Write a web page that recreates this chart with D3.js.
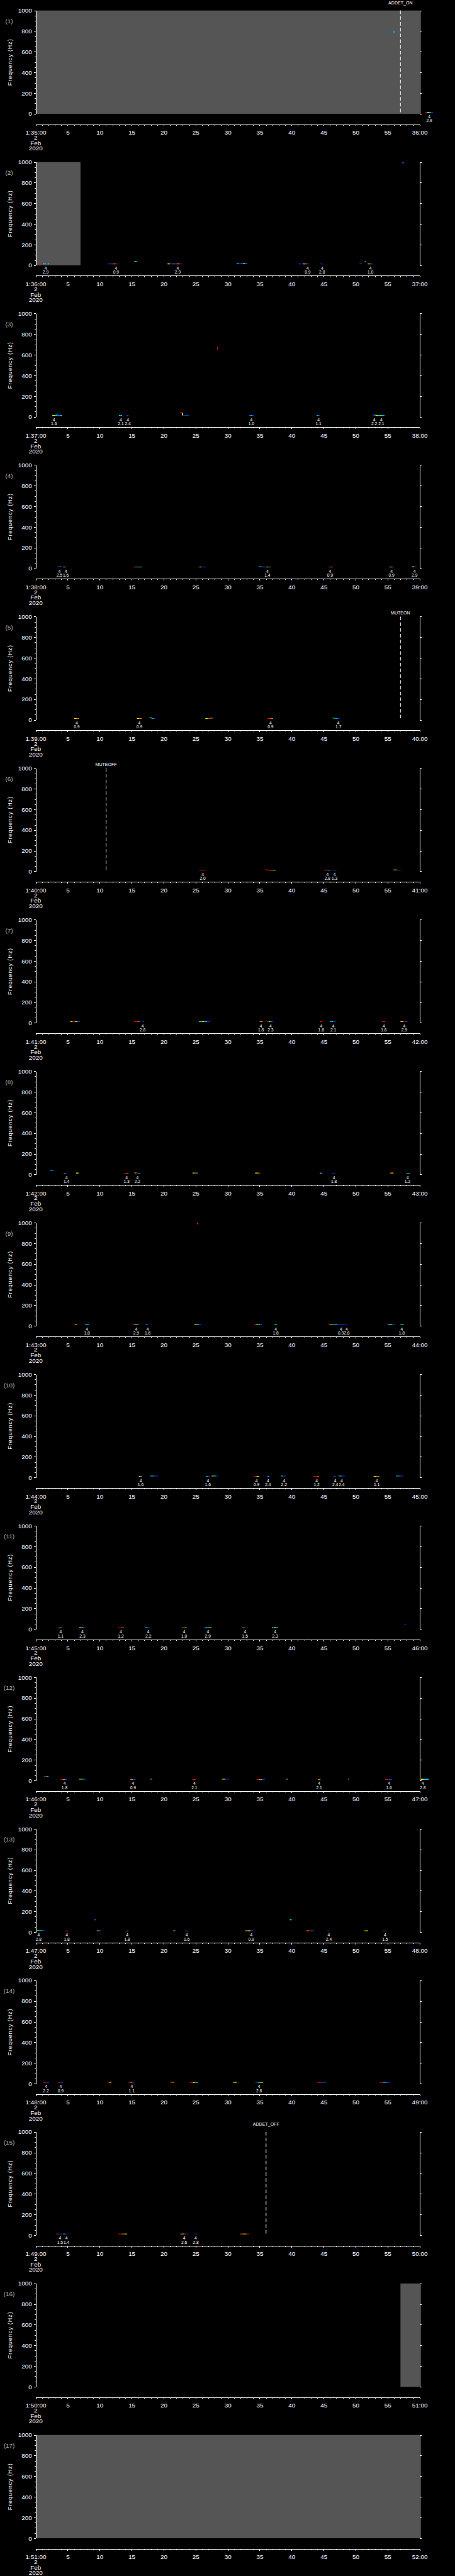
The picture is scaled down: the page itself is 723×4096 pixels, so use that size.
<!DOCTYPE html>
<html>
<head>
<meta charset="utf-8">
<script src="https://cdn.jsdelivr.net/npm/d3@7"></script>
<style>
  html, body { margin: 0; padding: 0; background: #000; }
  svg { display: block; }
  text { font-family: "Liberation Sans", Arial, sans-serif; fill: #fff; }
</style>
</head>
<body>
<div id="chart"></div>
<script>
// one panel per minute, 2 Feb 2020
const panelStarts = ["1:35:00","1:36:00","1:37:00","1:38:00","1:39:00","1:40:00","1:41:00","1:42:00","1:43:00",
                     "1:44:00","1:45:00","1:46:00","1:47:00","1:48:00","1:49:00","1:50:00","1:51:00"];
const panelEnds = ["36:00","37:00","38:00","39:00","40:00","41:00","42:00","43:00","44:00",
                   "45:00","46:00","47:00","48:00","49:00","50:00","51:00","52:00"];
const dateLines = ["2", "Feb", "2020"];
const yMajor = [0, 200, 400, 600, 800, 1000];
const xMajor = [0, 5, 10, 15, 20, 25, 30, 35, 40, 45, 50, 55, 60];

// no-data spans: panel, t0, t1 (seconds in the minute)
const gaps = [[1, 0, 60], [2, 0, 7.0], [16, 57.0, 60], [17, 0, 60]];

// event lines: panel, t, text, row
const markers = [[1, 57.0, "ADDET_ON", 0], [5, 57.0, "MUTEON", 1], [6, 11.0, "MUTEOFF", 1], [15, 36.0, "ADDET_OFF", 0]];

// spectrogram traces: panel, t0, t1, f0, f1, intensity cells (0 blue .. 1 red)
const traces = [
  [1, 55.9, 56.1, 780, 805, [0.25]], [1, 60.9, 62.1, 10, 18, [1, 0.65, 0.35, 0.1]],
  [2, 0.9, 2.1, 10, 18, [1, 0.8, 0.35, 0.1, 0.35]], [2, 11.3, 12.9, 10, 17, [0.1, 1, 0.8, 0.1]],
  [2, 15.4, 15.8, 35, 42, [0.35]], [2, 20.6, 22.8, 10, 18, [0.65, 0.1, 0.2, 1, 0.8, 0.1]],
  [2, 31.4, 33.1, 12, 20, [0.35, 0.1, 0.15, 0.65, 0.1]], [2, 41.1, 42.7, 10, 17, [0.1, 0, 0.65, 0.8, 0.1]],
  [2, 44.5, 44.8, 10, 17, [0.1]], [2, 50.6, 51.0, 18, 24, [0.1]], [2, 51.4, 51.6, 36, 42, [0.35]],
  [2, 51.9, 52.7, 10, 17, [0.65, 0.8, 0.1]], [2, 57.3, 57.5, 988, 998, [0.2]],
  [3, 2.6, 4.1, 10, 17, [0.65, 0.35, 0.2, 0.35]], [3, 3.1, 3.5, 16, 22, [0.3]],
  [3, 13.0, 13.5, 10, 17, [0.4, 0.35]], [3, 14.2, 14.5, 10, 17, [0.1]],
  [3, 22.6, 22.85, 36, 44, [1]], [3, 22.85, 23.0, 14, 40, [0.65]], [3, 23.0, 23.9, 12, 18, [0.1, 0.15]],
  [3, 28.35, 28.5, 650, 675, [1]], [3, 33.3, 34.1, 10, 17, [0.1, 0.35, 0.1]],
  [3, 43.9, 44.4, 10, 17, [0.35, 0.1]], [3, 52.6, 53.1, 14, 21, [0.1, 0.35]],
  [3, 53.1, 54.5, 10, 17, [0.65, 0.35, 0.5, 0.35]],
  [4, 3.4, 4.0, 13, 20, [0.1, 0.2]], [4, 4.3, 4.9, 10, 16, [0.65, 0.1]],
  [4, 15.2, 16.6, 10, 16, [1, 0.8, 0.35, 0.35]], [4, 25.3, 26.6, 10, 16, [1, 0.65, 0.1, 0.1]],
  [4, 34.9, 35.4, 13, 20, [0.35, 0.1]], [4, 35.4, 36.7, 10, 16, [0.2, 1, 0.65, 0.35]],
  [4, 45.7, 46.4, 10, 16, [1, 0.8]], [4, 55.2, 56.0, 10, 16, [0.8, 0.65, 0.1]], [4, 58.8, 59.5, 12, 19, [0.65, 0.1]],
  [5, 6.0, 6.8, 10, 16, [0.65, 0.8]], [5, 15.8, 16.6, 10, 16, [0.65, 0.8]],
  [5, 17.8, 18.1, 16, 23, [0.65]], [5, 18.1, 18.7, 10, 16, [0.35, 0.1]],
  [5, 26.5, 27.3, 10, 16, [0.65, 0.9]], [5, 27.3, 27.8, 14, 20, [0.65, 0.2]],
  [5, 36.2, 37.1, 10, 16, [1, 0.8]], [5, 46.4, 46.8, 14, 20, [0.5]], [5, 46.8, 47.5, 10, 16, [0.35, 0.1]],
  [6, 25.5, 26.6, 10, 16, [1, 0.9, 1]], [6, 35.8, 36.5, 12, 18, [1]], [6, 36.5, 37.5, 10, 16, [0.8, 0.65]],
  [6, 45.1, 45.6, 10, 17, [1]], [6, 45.6, 46.1, 10, 16, [0.35]], [6, 46.3, 47.0, 10, 16, [0.1]],
  [6, 55.9, 56.4, 12, 18, [0.5, 0.65]], [6, 56.4, 57.1, 10, 16, [1, 0.1]],
  [7, 5.4, 6.9, 10, 16, [0.65, 1, 0.65, 0.1]], [7, 15.4, 16.3, 10, 16, [1, 0.9]], [7, 16.6, 16.9, 10, 16, [0.1]],
  [7, 25.5, 27.2, 10, 16, [0.35, 0.65, 0.35, 0.1]], [7, 35.0, 35.5, 10, 16, [0.8]],
  [7, 36.2, 37.1, 10, 16, [1, 0.65, 0.35, 0.1]], [7, 44.4, 44.8, 10, 16, [1]],
  [7, 46.0, 46.9, 10, 16, [0.35, 0.1]], [7, 54.1, 54.6, 10, 16, [1]], [7, 57.0, 58.1, 10, 16, [0.65, 1, 0.1]],
  [8, 2.3, 2.9, 36, 42, [0.35, 0.1]], [8, 4.4, 4.9, 10, 16, [0.8, 0.1]], [8, 6.3, 6.7, 10, 18, [0.65]],
  [8, 13.8, 14.5, 10, 16, [1, 0.8]], [8, 15.4, 15.8, 12, 19, [0.8]], [8, 15.8, 16.3, 10, 16, [0.1, 0.35]],
  [8, 24.5, 25.4, 11, 18, [0.65, 0.8, 0.35]], [8, 34.3, 35.0, 10, 18, [0.65, 0.8]],
  [8, 44.4, 44.9, 10, 17, [0.65, 0.1]], [8, 46.3, 46.8, 10, 16, [0.1]],
  [8, 55.4, 56.0, 10, 18, [0.8, 0.65, 1]], [8, 57.9, 58.5, 10, 16, [0.35]],
  [9, 6.0, 6.4, 10, 17, [1, 0.65]], [9, 7.7, 8.3, 9, 15, [0.35]], [9, 15.1, 16.1, 11, 17, [1, 0.65, 0.35]],
  [9, 17.2, 17.6, 9, 15, [0.35, 0.1]], [9, 24.8, 25.9, 10, 17, [0.65, 0.35, 0.1]],
  [9, 25.2, 25.4, 985, 1000, [0.95]], [9, 34.2, 35.4, 10, 17, [1, 0.65, 0.35, 0.1]],
  [9, 37.3, 37.7, 9, 15, [0.35]], [9, 45.7, 46.6, 11, 17, [1, 0.65, 0.35]],
  [9, 46.6, 48.3, 9, 15, [0.35, 0.1, 0.1]], [9, 48.5, 48.7, 9, 15, [0.1]],
  [9, 55.0, 56.1, 10, 17, [0.35, 0.5, 0.1]], [9, 57.0, 57.5, 9, 15, [0.35, 0.5]],
  [10, 16.1, 16.6, 9, 15, [0.65, 0.35]], [10, 17.9, 19.1, 12, 18, [0.35, 0.1]],
  [10, 26.6, 27.2, 9, 15, [0.35, 0.1]], [10, 27.5, 28.5, 12, 18, [0.65, 0.35, 0.1]],
  [10, 34.1, 34.9, 9, 15, [1, 0.65]], [10, 36.1, 36.5, 9, 15, [0.1, 0.35]],
  [10, 38.3, 39.1, 12, 18, [0.35, 0.1]], [10, 43.4, 44.3, 9, 15, [1, 0.9]],
  [10, 46.5, 46.9, 9, 15, [0.1]], [10, 47.3, 48.3, 12, 18, [0.35, 0.1]],
  [10, 52.8, 53.7, 9, 15, [0.65, 0.8]], [10, 56.3, 57.4, 12, 18, [0.35, 0.1]],
  [11, 3.4, 4.3, 9, 15, [1, 0.65, 0.1]], [11, 6.8, 7.8, 12, 18, [0.65, 0.35, 0.1]],
  [11, 12.8, 13.8, 9, 15, [1, 0.8]], [11, 17.1, 17.9, 12, 18, [0.35, 0.1]],
  [11, 22.8, 23.6, 9, 15, [0.8, 0.65]], [11, 26.4, 27.5, 12, 18, [0.35, 0.5]],
  [11, 32.2, 33.2, 9, 15, [0.8, 0.1]], [11, 36.9, 37.9, 12, 18, [0.35, 0.65, 0.35]], [11, 57.6, 57.9, 38, 44, [0.1]],
  [12, 1.3, 2.0, 38, 44, [1, 0.35]], [12, 3.9, 4.9, 8, 14, [1, 0.8, 0.1]], [12, 6.8, 7.9, 11, 17, [0.65, 0.35, 0.1]],
  [12, 14.8, 15.6, 8, 14, [0.8, 0.1]], [12, 17.9, 18.2, 11, 17, [0.35]], [12, 24.5, 25.0, 8, 14, [1]],
  [12, 29.1, 30.2, 11, 17, [0.65, 0.1]], [12, 34.5, 35.8, 8, 14, [1, 0.8, 0.1]], [12, 39.1, 39.4, 11, 17, [0.5]],
  [12, 44.1, 44.5, 8, 14, [0.8]], [12, 48.8, 49.0, 11, 17, [0.35]], [12, 54.6, 55.7, 8, 14, [1, 0.1]],
  [12, 60.2, 61.4, 8, 17, [0.65, 0.35, 0.35]],
  [13, 0.2, 1.5, 12, 18, [0.5, 0.35, 0.1]], [13, 4.6, 5.1, 9, 15, [1]], [13, 9.2, 9.4, 115, 125, [0.2]],
  [13, 9.6, 10.2, 10, 17, [0.65, 0.35, 0.1]], [13, 14.1, 14.5, 9, 15, [1, 0.8]], [13, 21.5, 21.8, 10, 17, [0.5, 0.35]],
  [13, 23.3, 23.9, 9, 15, [1, 0.1]], [13, 32.7, 34.0, 9, 17, [0.8, 0.65, 0.1]], [13, 39.7, 40.0, 115, 125, [0.4]],
  [13, 42.3, 43.5, 10, 17, [0.8, 1, 0.1]], [13, 45.6, 45.9, 9, 15, [0.1]], [13, 51.3, 51.9, 10, 17, [0.8, 0.65]],
  [13, 54.2, 54.8, 9, 15, [1]],
  [14, 1.2, 2.1, 9, 15, [1, 0.1]], [14, 3.5, 4.3, 9, 15, [1, 0.1]], [14, 11.3, 11.8, 9, 16, [1, 0.65]],
  [14, 14.5, 15.4, 9, 15, [1, 0.8, 0.1]], [14, 21.0, 21.6, 9, 16, [1, 0.8]], [14, 24.1, 25.4, 9, 15, [1, 0.65, 0.35]],
  [14, 30.8, 31.4, 9, 16, [0.8, 0.65]], [14, 34.3, 35.5, 9, 15, [0.1, 0.35, 0.65]],
  [14, 44.0, 45.4, 9, 15, [1, 0.1]], [14, 53.7, 55.4, 9, 15, [1, 0.35, 0.1]],
  [15, 3.2, 4.2, 9, 15, [1, 0.1]], [15, 4.3, 4.9, 9, 15, [0.35, 0.1]], [15, 12.9, 14.3, 9, 15, [1, 0.8, 0.65]],
  [15, 22.6, 23.8, 9, 15, [0.8, 0.65, 1, 0.1]], [15, 24.9, 25.2, 9, 15, [0.1]], [15, 32.0, 33.4, 9, 15, [0.8, 0.65, 1]]
];

// event tags under the traces: panel, t, upper, lower
const tags = [
  [1, 61.5, "4", "2.9"],
  [2, 1.55, "4", "2.9"], [2, 12.55, "4", "0.9"], [2, 22.2, "4", "2.9"], [2, 42.5, "4", "0.9"], [2, 44.75, "4", "2.8"], [2, 52.3, "4", "1.0"],
  [3, 2.85, "4", "1.6"], [3, 13.3, "4", "2.1"], [3, 14.4, "4", "2.4"], [3, 33.7, "4", "1.0"], [3, 44.2, "4", "1.1"], [3, 52.9, "4", "2.2"], [3, 54.0, "4", "2.1"],
  [4, 3.7, "4", "2.5"], [4, 4.7, "4", "1.6"], [4, 36.2, "4", "1.4"], [4, 46.0, "4", "0.9"], [4, 55.6, "4", "0.9"], [4, 59.2, "4", "2.9"],
  [5, 6.4, "4", "0.9"], [5, 16.2, "4", "0.9"], [5, 36.7, "4", "0.9"], [5, 47.3, "4", "1.7"],
  [6, 26.1, "4", "2.0"], [6, 45.6, "4", "2.8"], [6, 46.7, "4", "1.3"],
  [7, 16.7, "4", "2.8"], [7, 35.2, "4", "1.8"], [7, 36.7, "4", "2.3"], [7, 44.6, "4", "1.8"], [7, 46.5, "4", "2.1"], [7, 54.4, "4", "1.6"], [7, 57.6, "4", "2.9"],
  [8, 4.8, "4", "1.4"], [8, 14.2, "4", "1.3"], [8, 15.9, "4", "2.2"], [8, 46.6, "4", "1.8"], [8, 58.1, "4", "1.2"],
  [9, 8.0, "4", "1.8"], [9, 15.7, "4", "2.9"], [9, 17.5, "4", "1.6"], [9, 37.5, "4", "1.8"], [9, 47.7, "4", "0.9"], [9, 48.6, "4", "2.8"], [9, 57.2, "4", "1.8"],
  [10, 16.4, "4", "1.6"], [10, 26.9, "4", "1.6"], [10, 34.5, "4", "0.9"], [10, 36.3, "4", "2.4"], [10, 38.8, "4", "2.2"], [10, 43.9, "4", "1.2"], [10, 46.8, "4", "2.4"], [10, 47.8, "4", "2.4"], [10, 53.3, "4", "1.1"],
  [11, 3.9, "4", "1.1"], [11, 7.3, "4", "2.3"], [11, 13.3, "4", "1.2"], [11, 17.6, "4", "2.2"], [11, 23.2, "4", "1.0"], [11, 26.9, "4", "2.9"], [11, 32.7, "4", "1.5"], [11, 37.4, "4", "2.3"],
  [12, 4.5, "4", "1.8"], [12, 15.2, "4", "0.9"], [12, 24.8, "4", "2.1"], [12, 44.3, "4", "2.1"], [12, 55.2, "4", "1.6"], [12, 60.5, "4", "2.8"],
  [13, 0.45, "4", "2.8"], [13, 4.85, "4", "1.8"], [13, 14.3, "4", "1.8"], [13, 23.6, "4", "1.6"], [13, 33.7, "4", "0.9"], [13, 45.8, "4", "2.4"], [13, 54.6, "4", "1.5"],
  [14, 1.6, "4", "2.2"], [14, 3.9, "4", "0.9"], [14, 15.0, "4", "1.1"], [14, 34.9, "4", "2.8"],
  [15, 3.8, "4", "1.5"], [15, 4.8, "4", "1.4"], [15, 23.2, "4", "2.6"], [15, 25.0, "4", "2.8"]
];

const W = 1024, H = 5802;
const panelH = H / panelStarts.length;
const lw = 1.4;

const x = d3.scaleLinear().domain([0, 60]).range([80.3, 944.5]);
const y = d3.scaleLinear().domain([0, 1000]).range([256.3, 23.7]);
const jet = d3.scaleLinear()
  .domain([0, 0.35, 0.5, 0.65, 0.8, 1])
  .range(["#0000ff", "#00e0ff", "#40ff60", "#ffff00", "#ff9000", "#ff0000"]);

const svg = d3.select("#chart").append("svg")
  .attr("width", 723).attr("height", 4096)
  .attr("viewBox", `0 0 ${W} ${H}`);
svg.append("rect").attr("width", W).attr("height", H).attr("fill", "#000");

panelStarts.forEach((start, i) => {
  const p = i + 1;
  const g = svg.append("g").attr("transform", `translate(0,${i * panelH})`);

  // grey no-data spans
  g.selectAll("rect.gap").data(gaps.filter(d => d[0] === p)).enter().append("rect")
    .attr("class", "gap")
    .attr("x", d => x(d[1])).attr("width", d => x(d[2]) - x(d[1]))
    .attr("y", y(1000)).attr("height", y(0) - y(1000))
    .attr("fill", "#555555");

  // traces
  traces.filter(d => d[0] === p).forEach(d => {
    const [, t0, t1, f0, f1, vals] = d;
    const w = (t1 - t0) / vals.length;
    g.selectAll(null).data(vals).enter().append("rect")
      .attr("x", (v, k) => x(t0 + k * w))
      .attr("width", x(w) - x(0))
      .attr("y", y(f1)).attr("height", y(f0) - y(f1))
      .attr("fill", v => jet(v));
  });

  // y axes
  const minor = d3.range(0, 1001, 50);
  g.append("g").attr("transform", `translate(${x(0)},0)`)
    .call(d3.axisLeft(y).tickValues(minor).tickSize(2).tickSizeOuter(4).tickFormat(""));
  const yl = g.append("g").attr("transform", `translate(${x(0)},0)`)
    .call(d3.axisLeft(y).tickValues(yMajor).tickSize(4).tickSizeOuter(4).tickPadding(4.5)
      .tickFormat(d3.format("d")));
  yl.selectAll("text").attr("font-size", 14);
  g.append("g").attr("transform", `translate(${x(60)},0)`)
    .call(d3.axisRight(y).tickValues(minor).tickSize(2).tickSizeOuter(4).tickFormat(""));
  g.append("g").attr("transform", `translate(${x(60)},0)`)
    .call(d3.axisRight(y).tickValues(yMajor).tickSize(4).tickSizeOuter(4).tickFormat(""));

  // x axis
  g.append("g").attr("transform", "translate(0,280)")
    .call(d3.axisBottom(x).tickValues(d3.range(0, 61, 1)).tickSize(2.7).tickSizeOuter(0).tickFormat(""));
  const xa = g.append("g").attr("transform", "translate(0,280)")
    .call(d3.axisBottom(x).tickValues(xMajor).tickSize(4).tickSizeOuter(0).tickPadding(9.4)
      .tickFormat(v => v === 0 ? start : v === 60 ? panelEnds[i] : v));
  xa.selectAll("text").attr("font-size", 14);

  g.selectAll("text.date").data(dateLines).enter().append("text")
    .attr("class", "date")
    .attr("x", x(0)).attr("y", (d, k) => [314.3, 326.7, 339][k])
    .attr("text-anchor", "middle").attr("font-size", 14)
    .text(d => d);

  // event lines
  markers.filter(d => d[0] === p).forEach(d => {
    g.append("line")
      .attr("x1", x(d[1])).attr("x2", x(d[1]))
      .attr("y1", y(1000)).attr("y2", y(0))
      .attr("stroke", "#fff").attr("stroke-width", lw).attr("stroke-dasharray", "8,5");
    g.append("text")
      .attr("x", x(d[1])).attr("y", d[3] === 0 ? 9.8 : 19)
      .attr("text-anchor", "middle").attr("font-size", 10)
      .text(d[2]);
  });

  // tags
  const tg = g.selectAll("g.tag").data(tags.filter(d => d[0] === p)).enter().append("g")
    .attr("class", "tag").attr("transform", d => `translate(${x(d[1])},0)`);
  tg.append("text").attr("y", 266.4).attr("text-anchor", "middle").attr("font-size", 9.5).text(d => d[2]);
  tg.append("text").attr("y", 275.4).attr("text-anchor", "middle").attr("font-size", 9.5).text(d => d[3]);

  // labels
  g.append("text")
    .attr("x", 20.5).attr("y", 52.5).attr("text-anchor", "middle")
    .attr("font-size", 14).style("fill", "#b4b4b4")
    .text(`(${p})`);
  g.append("text")
    .attr("transform", `translate(27.5,${(y(0) + y(1000)) / 2}) rotate(-90)`)
    .attr("text-anchor", "middle").attr("font-size", 13).attr("letter-spacing", 1.2)
    .text("Frequency  (Hz)");
});

svg.selectAll(".domain, .tick line")
  .attr("stroke", "#fff").attr("stroke-width", lw)
  .attr("shape-rendering", "crispEdges");
svg.selectAll(".tick text").style("fill", "#fff");
</script>
</body>
</html>
